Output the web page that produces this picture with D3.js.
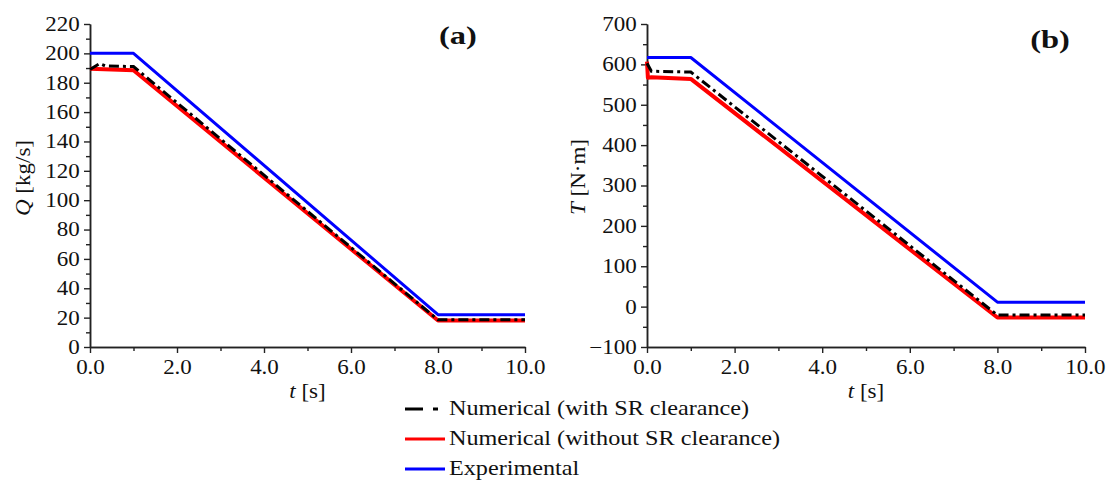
<!DOCTYPE html>
<html><head><meta charset="utf-8">
<script src="https://cdn.jsdelivr.net/npm/d3@7"></script>
<style>
body{margin:0;background:#fff;}
svg{display:block;}
text{font-family:"Liberation Serif","Times New Roman",serif;fill:#111;}
</style></head>
<body><svg id="c" width="1110" height="480"></svg>
<script>
// ---------- data ----------
const xTicks = [0, 2, 4, 6, 8, 10];
const xMinor = [1, 3, 5, 7, 9];
const yTicksA = [0, 20, 40, 60, 80, 100, 120, 140, 160, 180, 200, 220];
const yMinorA = [10, 30, 50, 70, 90, 110, 130, 150, 170, 190, 210];
const yTicksB = [-100, 0, 100, 200, 300, 400, 500, 600, 700];
const yMinorB = [-50, 50, 150, 250, 350, 450, 550, 650];

// panel (a): flow rate Q [kg/s]
const expA_t = [0, 1, 8, 10];
const expA_v = [200, 200, 22, 22];
const srA_t = [0, 0.22, 0.35, 1, 8, 10];
const srA_v = [189, 193, 191.5, 191, 18.5, 18.5];
const noA_t = [0, 1, 8, 10];
const noA_v = [189.5, 188.5, 18, 18];

// panel (b): torque T [N·m]
const expB_t = [0, 1, 8, 10];
const expB_v = [617, 617, 11, 11];
const srB_t = [0, 0.1, 1, 8, 10];
const srB_v = [603, 583, 581, -21, -21];
const noB_t = [0, 0.02, 0.1, 1, 8, 10];
const noB_v = [607, 567, 568, 564, -27, -27];

const legendLabels = ["Numerical (with SR clearance)", "Numerical (without SR clearance)", "Experimental"];
const colors = {sr: "#000000", no: "#ff0000", exp: "#0000ff"};

// ---------- drawing ----------
const svg = d3.select("#c");
const SX = 1.15;

function stretchTicks(g){
  g.selectAll(".tick text").attr("transform", `scale(${SX},1)`);
}

function panel(opt){
  const x = d3.scaleLinear().domain([0, 10]).range([opt.x0, opt.x1]);
  const y = d3.scaleLinear().domain(opt.yDomain).range([opt.y0, opt.y1]);
  const g = svg.append("g");

  const styleAxis = sel => {
    sel.selectAll("path,line").attr("stroke", "#222").attr("stroke-width", 1.4);
    sel.selectAll("text").style("font-size", "20px").attr("fill", "#111");
  };

  // minor ticks
  g.append("g").attr("transform", `translate(0,${opt.y0})`)
    .call(d3.axisBottom(x).tickValues(xMinor).tickSize(4).tickFormat("").tickSizeOuter(0))
    .call(styleAxis);
  g.append("g").attr("transform", `translate(${opt.x0},0)`)
    .call(d3.axisLeft(y).tickValues(opt.yMinor).tickSize(4).tickFormat("").tickSizeOuter(0))
    .call(styleAxis);
  // major ticks
  const gx = g.append("g").attr("transform", `translate(0,${opt.y0})`)
    .call(d3.axisBottom(x).tickValues(xTicks).tickSize(6).tickPadding(7).tickFormat(d3.format(".1f")).tickSizeOuter(0))
    .call(styleAxis).call(stretchTicks);
  const gy = g.append("g").attr("transform", `translate(${opt.x0},0)`)
    .call(d3.axisLeft(y).tickValues(opt.yTicks).tickSize(6).tickPadding(3).tickSizeOuter(0))
    .call(styleAxis).call(stretchTicks);
  gx.select(".domain").attr("stroke-width", 1.6);
  gy.select(".domain").attr("stroke-width", 1.6);

  const line = d3.line().x(d => x(d[0])).y(d => y(d[1]));
  const zip = (t, v) => t.map((tt, i) => [tt, v[i]]);

  g.append("path").datum(zip(opt.no[0], opt.no[1])).attr("d", line)
    .attr("fill", "none").attr("stroke", colors.no).attr("stroke-width", 4).attr("stroke-linejoin", "round");
  g.append("path").datum(zip(opt.sr[0], opt.sr[1])).attr("d", line)
    .attr("fill", "none").attr("stroke", colors.sr).attr("stroke-width", 3)
    .attr("stroke-dasharray", "10,4,3,4");
  g.append("path").datum(zip(opt.exp[0], opt.exp[1])).attr("d", line)
    .attr("fill", "none").attr("stroke", colors.exp).attr("stroke-width", 3).attr("stroke-linejoin", "round");

  // x title
  const xt = g.append("text").attr("transform", `translate(${(opt.x0 + opt.x1) / 2},398) scale(${SX},1)`)
    .attr("text-anchor", "middle").style("font-size", "20px");
  xt.append("tspan").style("font-style", "italic").text("t");
  xt.append("tspan").text(" [s]");

  // y title
  const yt = g.append("text").attr("transform", `translate(${opt.ytx},${opt.yty}) rotate(-90) scale(${SX},1)`)
    .attr("text-anchor", "middle").style("font-size", "20px");
  yt.append("tspan").style("font-style", "italic").text(opt.ySym);
  yt.append("tspan").text(opt.yUnit);

  // panel label
  g.append("text").attr("transform", `translate(${opt.lx},${opt.ly}) scale(1.25,1)`)
    .attr("text-anchor", "middle").style("font-size", "26px").style("font-weight", "bold").text(opt.label);
}

panel({x0: 90, x1: 525, y0: 347, y1: 24, yDomain: [0, 220], yTicks: yTicksA, yMinor: yMinorA,
  exp: [expA_t, expA_v], sr: [srA_t, srA_v], no: [noA_t, noA_v],
  ytx: 30, yty: 178, ySym: "Q", yUnit: " [kg/s]", label: "(a)", lx: 458, ly: 44});
panel({x0: 647, x1: 1085, y0: 347, y1: 24, yDomain: [-100, 700], yTicks: yTicksB, yMinor: yMinorB,
  exp: [expB_t, expB_v], sr: [srB_t, srB_v], no: [noB_t, noB_v],
  ytx: 585, yty: 177, ySym: "T", yUnit: " [N·m]", label: "(b)", lx: 1050, ly: 48});

// legend
const lg = svg.append("g");
const rowsY = [409, 439, 469];
lg.append("line").attr("x1", 405).attr("x2", 423).attr("y1", rowsY[0]).attr("y2", rowsY[0])
  .attr("stroke", colors.sr).attr("stroke-width", 3);
lg.append("line").attr("x1", 433).attr("x2", 438).attr("y1", rowsY[0]).attr("y2", rowsY[0])
  .attr("stroke", colors.sr).attr("stroke-width", 3);
lg.append("line").attr("x1", 405).attr("x2", 445).attr("y1", rowsY[1]).attr("y2", rowsY[1])
  .attr("stroke", colors.no).attr("stroke-width", 3);
lg.append("line").attr("x1", 405).attr("x2", 445).attr("y1", rowsY[2]).attr("y2", rowsY[2])
  .attr("stroke", colors.exp).attr("stroke-width", 3);
legendLabels.forEach((t, i) => {
  lg.append("text").attr("transform", `translate(449,${rowsY[i] + 6}) scale(1.1,1)`)
    .style("font-size", "22px").text(t);
});
</script></body></html>
